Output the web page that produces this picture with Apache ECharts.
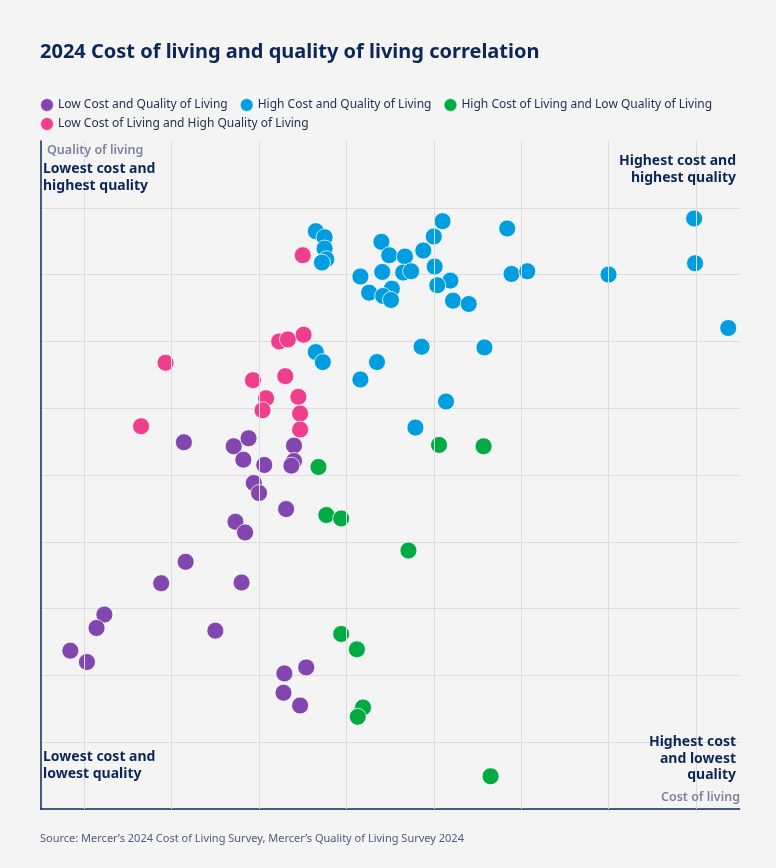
<!DOCTYPE html>
<html>
<head>
<meta charset="utf-8">
<script src="https://cdn.jsdelivr.net/npm/echarts@6/dist/echarts.min.js"></script>
<style>
html,body{margin:0;padding:0;background:#f4f4f4;}
#chart{width:776px;height:868px;}
</style>
</head>
<body>
<div id="chart"></div>
<script>
// Cost of living (x) / Quality of living (y) — abstract index units
const seriesNames = [
  'Low Cost and Quality of Living',
  'High Cost and Quality of Living',
  'High Cost of Living and Low Quality of Living',
  'Low Cost of Living and High Quality of Living'
];
const lowCostLowQuality = [
  [1.14,5.49],[1.71,5.43],[1.88,5.55],[2.40,5.44],[1.82,5.23],[2.06,5.15],[2.40,5.21],[2.37,5.14],
  [1.94,4.88],[2.00,4.73],[2.31,4.49],[1.73,4.30],[1.84,4.14],[1.16,3.70],[0.88,3.38],[1.80,3.39],
  [0.23,2.91],[0.14,2.71],[1.50,2.67],[-0.16,2.37],[0.03,2.20],[2.54,2.12],[2.29,2.03],[2.28,1.74],
  [2.47,1.55]
];
const highCostHighQuality = [
  [2.65,8.65],[2.75,8.56],[2.75,8.39],[2.77,8.23],[2.72,8.18],[3.40,8.49],[3.49,8.29],[3.67,8.27],
  [4.10,8.80],[4.00,8.57],[3.88,8.36],[4.84,8.69],[3.16,7.97],[3.41,8.04],[3.65,8.03],[3.74,8.05],
  [4.01,8.12],[4.19,7.91],[4.04,7.84],[4.89,8.01],[5.07,8.05],[3.26,7.73],[3.52,7.79],[3.42,7.68],
  [3.51,7.62],[4.22,7.61],[4.40,7.56],[2.65,6.84],[2.73,6.69],[3.86,6.92],[4.58,6.91],[3.35,6.69],
  [3.16,6.43],[4.14,6.10],[3.79,5.71],[6.98,8.84],[6.99,8.17],[6.00,8.00],[7.37,7.20]
];
const highCostLowQuality = [
  [2.68,5.12],[2.77,4.40],[2.94,4.35],[3.71,3.87],[2.94,2.62],[3.12,2.39],[3.19,1.52],[3.13,1.38],
  [4.65,0.49],[4.06,5.45],[4.57,5.43]
];
const lowCostHighQuality = [
  [2.50,8.29],[2.23,7.00],[2.33,7.03],[2.51,7.10],[0.93,6.68],[1.93,6.42],[2.30,6.48],[2.08,6.15],
  [2.04,5.97],[2.45,6.17],[2.47,5.92],[2.47,5.68],[0.65,5.73]
];
const xGridValues = [0,1,2,3,4,5,6,7];

const NAVY = '#0b2759';
const colors = ['#8246af','#009de0','#00ab44','#ef3e8c'];
const FONT = '"Noto Sans", "Open Sans", sans-serif';
const CORNER_FONT = 'bold 14px ' + FONT;

const chart = echarts.init(document.getElementById('chart'), null, {renderer:'canvas'});

function sc(name, data, color){
  return {
    name: name, type: 'scatter', data: data, symbol: 'circle', symbolSize: 17,
    itemStyle: {color: color, opacity: 1, borderColor: 'rgba(255,255,255,0.75)', borderWidth: 1},
    emphasis: {disabled: true}, z: 3
  };
}
function leftText(str, left, top, font, fill){
  return {type:'text', left: left, top: top, z: 10, style:{text: str, font: font, fill: fill}};
}
function rightText(str, right, top, font, fill){
  return {type:'text', right: right, top: top, z: 10, style:{text: str, font: font, fill: fill}};
}

chart.setOption({
  animation: false,
  backgroundColor: '#f4f4f4',
  textStyle: {fontFamily: FONT},
  grid: {left: 40.6, right: 36.4, top: 141, bottom: 59, containLabel: false},
  xAxis: {
    type: 'value', min: -0.5, max: 7.5,
    axisLine: {show: true, onZero: false, lineStyle: {color: NAVY, width: 1.5}},
    axisTick: {show: false}, axisLabel: {show: false}, splitLine: {show: false}
  },
  yAxis: {
    type: 'value', min: 0, max: 10, interval: 1,
    axisLine: {show: true, onZero: false, lineStyle: {color: NAVY, width: 1.5}},
    axisTick: {show: false}, axisLabel: {show: false},
    splitLine: {show: true, showMinLine: false, showMaxLine: false, lineStyle: {color: '#dcdcdc', width: 1}}
  },
  legend: [
    {
      left: 39, top: 97, padding: 0, itemWidth: 14, itemHeight: 14, itemGap: 11, icon: 'circle',
      data: seriesNames.slice(0,3),
      textStyle: {fontFamily: FONT, fontSize: 12, color: '#1f2d50', padding: [0,0,0,-1]},
      selectedMode: false
    },
    {
      left: 39, top: 116, padding: 0, itemWidth: 14, itemHeight: 14, itemGap: 11, icon: 'circle',
      data: seriesNames.slice(3),
      textStyle: {fontFamily: FONT, fontSize: 12, color: '#1f2d50', padding: [0,0,0,-1]},
      selectedMode: false
    }
  ],
  series: [
    {
      type: 'scatter', data: [], silent: true, z: 1,
      markLine: {
        silent: true, symbol: ['none','none'], animation: false,
        label: {show: false},
        lineStyle: {color: '#dcdcdc', width: 1, type: 'solid'},
        emphasis: {disabled: true},
        data: xGridValues.map(v => ({xAxis: v}))
      }
    },
    sc(seriesNames[0], lowCostLowQuality, colors[0]),
    sc(seriesNames[1], highCostHighQuality, colors[1]),
    sc(seriesNames[2], highCostLowQuality, colors[2]),
    sc(seriesNames[3], lowCostHighQuality, colors[3])
  ],
  graphic: [
    leftText('2024 Cost of living and quality of living correlation', 40, 42, 'bold 20px ' + FONT, NAVY),
    leftText('Quality of living', 47, 144, '600 12.5px ' + FONT, '#7d82a0'),
    leftText('Lowest cost and', 43, 162, CORNER_FONT, NAVY),
    leftText('highest quality', 43, 179, CORNER_FONT, NAVY),
    rightText('Highest cost and', 40, 154, CORNER_FONT, NAVY),
    rightText('highest quality', 40, 171, CORNER_FONT, NAVY),
    leftText('Lowest cost and', 43, 750, CORNER_FONT, NAVY),
    leftText('lowest quality', 43, 767, CORNER_FONT, NAVY),
    rightText('Highest cost', 40, 735, CORNER_FONT, NAVY),
    rightText('and lowest', 40, 752, CORNER_FONT, NAVY),
    rightText('quality', 40, 768, CORNER_FONT, NAVY),
    rightText('Cost of living', 36, 791, '600 12.5px ' + FONT, '#7d82a0'),
    leftText('Source: Mercer\u2019s 2024 Cost of Living Survey, Mercer\u2019s Quality of Living Survey 2024', 40, 833, '11px ' + FONT, '#4f5b7c')
  ]
});
</script>
</body>
</html>
